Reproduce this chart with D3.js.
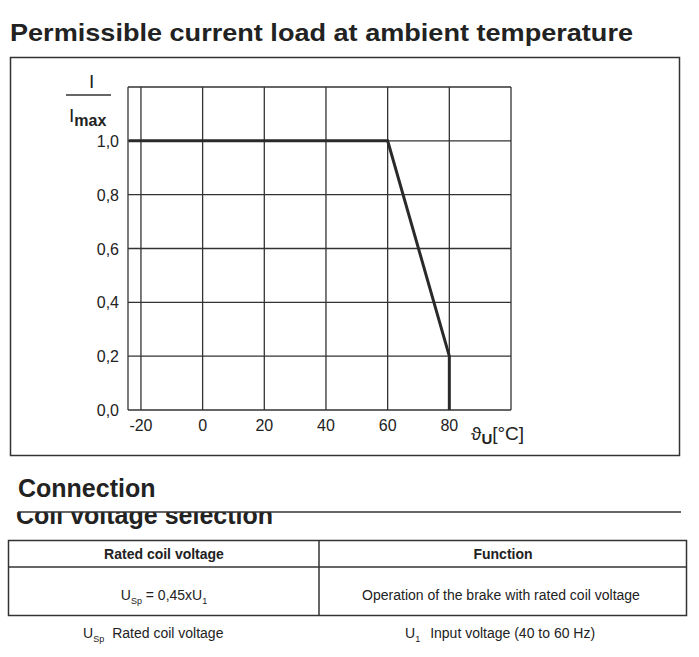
<!DOCTYPE html>
<html><head><meta charset="utf-8">
<script src="https://cdn.jsdelivr.net/npm/d3@7"></script>
<style>body{margin:0;background:#fff}text{font-family:"Liberation Sans",Arial,sans-serif;fill:#222}</style>
</head><body><svg id="c" width="699" height="657"></svg>
<script>
const temps = [-24, 60, 80, 80];
const ratios = [1.0, 1.0, 0.2, 0.0];
const xTicks = [-20, 0, 20, 40, 60, 80];
const yTicks = [0, 0.2, 0.4, 0.6, 0.8, 1.0];
const xGrid = [-20, 0, 20, 40, 60, 80, 100];
const yGrid = [0.2, 0.4, 0.6, 0.8, 1.0, 1.2];

const svg = d3.select("#c");
svg.append("text").attr("x",10).attr("y",41).attr("font-size",24).attr("font-weight","bold").attr("textLength",623).attr("lengthAdjust","spacingAndGlyphs").text("Permissible current load at ambient temperature");
svg.append("rect").attr("x",10.5).attr("y",57.5).attr("width",669).attr("height",398).attr("fill","none").attr("stroke","#333").attr("stroke-width",1.5);

const x = d3.scaleLinear().domain([-24.2,100]).range([128,511]);
const y = d3.scaleLinear().domain([0,1.2]).range([410,87]);
const g = svg.append("g");
g.selectAll(".vx").data(xGrid).join("line").attr("x1",d=>x(d)).attr("x2",d=>x(d)).attr("y1",y(0)).attr("y2",y(1.2)).attr("stroke","#333").attr("stroke-width",1.3);
g.selectAll(".hy").data(yGrid).join("line").attr("x1",x(-24.2)).attr("x2",x(100)).attr("y1",d=>y(d)).attr("y2",d=>y(d)).attr("stroke","#333").attr("stroke-width",1.3);
g.append("line").attr("x1",x(-24.2)).attr("x2",x(-24.2)).attr("y1",y(0)).attr("y2",y(1.2)).attr("stroke","#333").attr("stroke-width",1.3);
g.append("line").attr("x1",x(-24.2)).attr("x2",x(100)).attr("y1",y(0)).attr("y2",y(0)).attr("stroke","#333").attr("stroke-width",1.5);
g.append("path").datum(d3.range(temps.length)).attr("d",d3.line().x(i=>x(temps[i])).y(i=>y(ratios[i]))).attr("fill","none").attr("stroke","#2a2a2a").attr("stroke-width",3);

g.selectAll(".yl").data(yTicks).join("text").attr("x",119).attr("y",d=>y(d)+6).attr("text-anchor","end").attr("font-size",16).text(d=>d.toFixed(1).replace(".",","));
g.selectAll(".xl").data(xTicks).join("text").attr("x",d=>x(d)).attr("y",431).attr("text-anchor","middle").attr("font-size",16).text(d=>d);
svg.append("text").attr("x",471).attr("y",440).attr("font-size",19).html('ϑ<tspan font-size="15" font-weight="bold" dy="4">U</tspan><tspan dy="-4">[°C]</tspan>');
svg.append("text").attr("x",89).attr("y",88).attr("font-size",19).text("I");
svg.append("line").attr("x1",66).attr("x2",111).attr("y1",95).attr("y2",95).attr("stroke","#333").attr("stroke-width",1.5);
svg.append("text").attr("x",69).attr("y",122).attr("font-size",19).html('I<tspan font-size="16" font-weight="bold" dy="4">max</tspan>');

svg.append("text").attr("x",18).attr("y",497).attr("font-size",25).attr("font-weight","bold").text("Connection");
svg.append("clipPath").attr("id","cl").append("rect").attr("x",0).attr("y",512).attr("width",699).attr("height",18);
svg.append("text").attr("x",16).attr("y",524).attr("font-size",25).attr("font-weight","bold").attr("clip-path","url(#cl)").text("Coil voltage selection");
svg.append("line").attr("x1",18).attr("x2",681).attr("y1",512).attr("y2",512).attr("stroke","#333").attr("stroke-width",1.5);

svg.append("rect").attr("x",8.5).attr("y",540.5).attr("width",678).attr("height",75).attr("fill","none").attr("stroke","#333").attr("stroke-width",1.5);
svg.append("line").attr("x1",8).attr("x2",687).attr("y1",567).attr("y2",567).attr("stroke","#333").attr("stroke-width",1.5);
svg.append("line").attr("x1",319).attr("x2",319).attr("y1",540).attr("y2",616).attr("stroke","#333").attr("stroke-width",1.5);
svg.append("text").attr("x",164).attr("y",559).attr("text-anchor","middle").attr("font-size",14).attr("font-weight","bold").text("Rated coil voltage");
svg.append("text").attr("x",503).attr("y",559).attr("text-anchor","middle").attr("font-size",14).attr("font-weight","bold").text("Function");
svg.append("text").attr("x",164).attr("y",600).attr("text-anchor","middle").attr("font-size",14).html('U<tspan font-size="9" dy="4">Sp</tspan><tspan dy="-4"> = 0,45xU</tspan><tspan font-size="9" dy="4">1</tspan>');
svg.append("text").attr("x",501).attr("y",600).attr("text-anchor","middle").attr("font-size",14).text("Operation of the brake with rated coil voltage");
svg.append("text").attr("x",83).attr("y",638).attr("font-size",14).html('U<tspan font-size="9" dy="4">Sp</tspan><tspan dy="-4" dx="8">Rated coil voltage</tspan>');
svg.append("text").attr("x",405).attr("y",638).attr("font-size",14).html('U<tspan font-size="9" dy="4">1</tspan><tspan dy="-4" dx="10">Input voltage (40 to 60 Hz)</tspan>');
</script></body></html>
